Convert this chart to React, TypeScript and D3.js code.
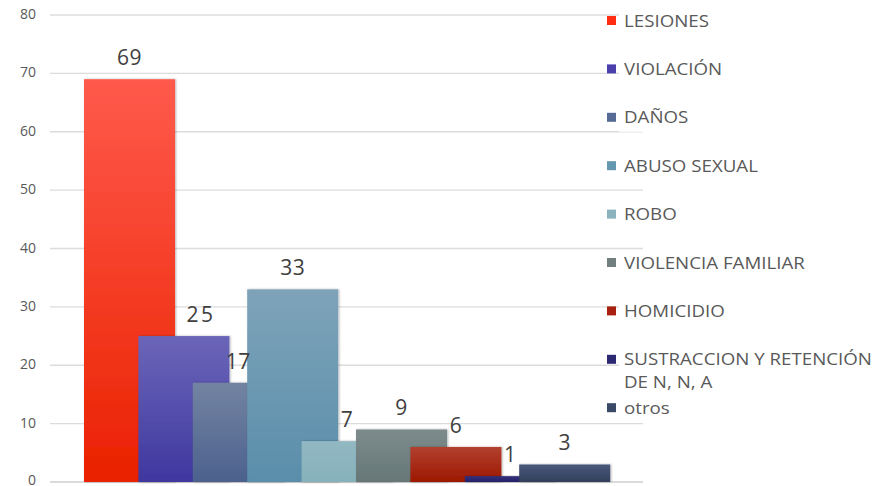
import React from 'react'
import * as d3 from 'd3'

const categories = [
  'LESIONES',
  'VIOLACIÓN',
  'DAÑOS',
  'ABUSO SEXUAL',
  'ROBO',
  'VIOLENCIA FAMILIAR',
  'HOMICIDIO',
  'SUSTRACCION Y RETENCIÓN DE N, N, A',
  'otros'
]
const values = [69, 25, 17, 33, 7, 9, 6, 1, 3]
const legendLines = [
  ['LESIONES'],
  ['VIOLACIÓN'],
  ['DAÑOS'],
  ['ABUSO SEXUAL'],
  ['ROBO'],
  ['VIOLENCIA FAMILIAR'],
  ['HOMICIDIO'],
  ['SUSTRACCION Y RETENCIÓN', 'DE N, N, A'],
  ['otros']
]
const yTicks = [0, 10, 20, 30, 40, 50, 60, 70, 80]

// top / bottom colours of each bar's gradient, and the legend swatch
const topColors = ['#ff5a4c', '#6b66b9', '#7384a2', '#7ea3b9', '#92b8c2', '#7d8b8c', '#b2402f', '#34307a', '#48587a']
const bottomColors = ['#ea2100', '#3f379f', '#4c618d', '#5a8eab', '#86b1bb', '#667776', '#9c1800', '#262269', '#323f5c']
const swatchColors = ['#ff2d12', '#4a40ac', '#566a96', '#6497b0', '#8bb3bd', '#717f7f', '#a82010', '#2c2872', '#3a4966']

const W = 878
const H = 486

export default function App() {
  const x = d3
    .scaleBand<string>()
    .domain(categories)
    .range([84, 84 + 54.4 * categories.length])
    .padding(0)
  const barW = x.bandwidth() * 1.673

  const y = d3.scaleLinear().domain([0, 80]).range([482, 15])

  // the "25" label sits off centre in the original
  const labelShift = (i: number) => (i === 1 ? 17 : 0)

  const legendY = d3
    .scaleLinear()
    .domain([0, categories.length - 1])
    .range([21, 21 + 48.4 * (categories.length - 1)])

  return (
    <svg
      width={W}
      height={H}
      style={{ position: 'absolute', left: 0, top: 0, background: '#fff' }}
    >
      <defs>
        {categories.map((c, i) => (
          <linearGradient key={c} id={`g${i}`} x1="0" y1="0" x2="0" y2="1">
            <stop offset="0%" stopColor={topColors[i]} />
            <stop offset="100%" stopColor={bottomColors[i]} />
          </linearGradient>
        ))}
        <filter id="sh" x="-10%" y="-10%" width="120%" height="120%">
          <feDropShadow dx="1" dy="0" stdDeviation="1.2" floodColor="#000" floodOpacity="0.3" />
        </filter>
      </defs>

      <g>
        {yTicks.map(t => (
          <g key={t}>
            <line x1={50} x2={643} y1={y(t)} y2={y(t)} stroke={t === 0 ? '#cfcfcf' : '#dcdcdc'} strokeWidth={1.3} />
            <text
              x={36}
              y={y(t)}
              dy={t === 0 ? 2.5 : 4}
              textAnchor="end"
              fontFamily="'Open Sans', sans-serif"
              fontSize={14}
              fill="#595959"
            >
              {t}
            </text>
          </g>
        ))}
      </g>

      <g>
        {categories.map((c, i) => (
          <rect
            key={c}
            x={x(c)}
            y={y(values[i])}
            width={barW}
            height={y(0) - y(values[i])}
            fill={`url(#g${i})`}
            filter="url(#sh)"
          />
        ))}
      </g>

      <g>
        {categories.map((c, i) => (
          <text
            key={c}
            x={(x(c) as number) + barW / 2 + labelShift(i)}
            y={y(values[i]) - 14}
            textAnchor="middle"
            fontFamily="'Open Sans', sans-serif"
            fontSize={21}
            fill="#404040"
            letterSpacing={i === 1 ? 2.5 : 0.5}
          >
            {values[i]}
          </text>
        ))}
      </g>

      <g>
        {legendLines.map((lines, i) => (
          <g key={i} transform={`translate(0,${legendY(i)})`}>
            <rect x={619} y={-9} width={259} height={lines.length * 23} fill="#fff" />
            <rect x={607} y={-5} width={9} height={9} fill={swatchColors[i]} />
            <g transform="translate(624,0) scale(1.17,1)">
              {lines.map((l, j) => (
                <text
                  key={j}
                  x={0}
                  y={j * 23}
                  dy="0.35em"
                  fontFamily="'Open Sans', sans-serif"
                  fontSize={16}
                  fill="#595959"
                >
                  {l}
                </text>
              ))}
            </g>
          </g>
        ))}
      </g>
    </svg>
  )
}
